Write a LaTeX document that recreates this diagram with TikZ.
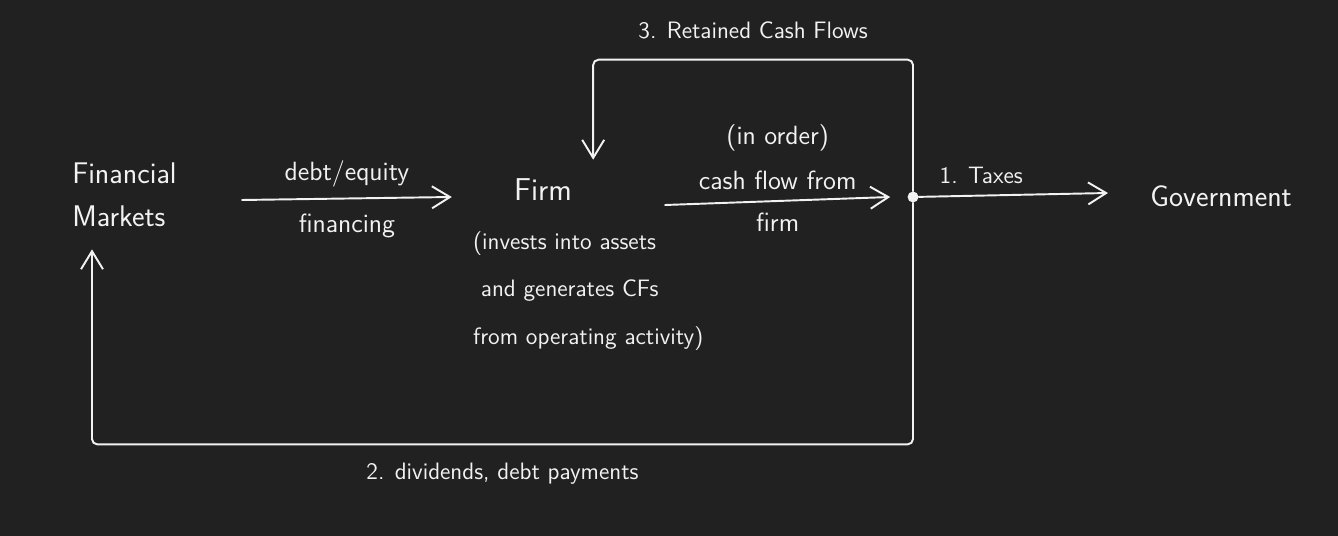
\documentclass[tikz,border=0pt]{standalone}
\usetikzlibrary{arrows.meta,calc}
\definecolor{board}{HTML}{212121}
\definecolor{chalk}{HTML}{F2F2F2}

\begin{document}
\begin{tikzpicture}[x=0.02cm, y=-0.02cm,
        big/.style={text=chalk, inner sep=0pt, font=\sffamily\fontsize{17}{24.5}\selectfont},
        lbl/.style={text=chalk, inner sep=0pt, font=\sffamily\fontsize{15}{25.5}\selectfont},
        small/.style={text=chalk, inner sep=0pt, font=\sffamily\fontsize{13.5}{27}\selectfont},
        flow/.style={draw=chalk, line width=1.1pt, line cap=round, line join=round,
            -{Straight Barb[length=3.6mm,width=4.4mm]}},
        loopback/.style={flow, rounded corners=3pt},
        dot/.style={circle, fill=chalk, inner sep=2.2pt}]
            \useasboundingbox[fill=board] (0,0) rectangle (1338,536);

            % parties
            \node[big, align=left, anchor=west] (fm) at (72,195) {Financial\\Markets};
            \node[big, font=\sffamily\fontsize{18}{24}\selectfont] (firm) at (543,190) {Firm};
            \node[small, align=left, anchor=north west] (desc) at ($(firm.south west)+(-41,30)$)
                {(invests into assets\\ \ and generates CFs\\from operating activity)};
            \node[big, anchor=west] (gov) at (1150,196) {Government};
            \node[dot] (split) at (913,197) {};

            % ends of the arrows
            \coordinate (mkt) at ($(fm.south west)+(20,22)$);
            \coordinate (retin) at ($(firm.north east)+(21,-19)$);

            % financing
            \draw[flow] ($(fm.east)+(65,5)$) -- ($(firm.west)+(-62,7)$)
                node[lbl, midway, above=6pt] {debt/equity}
                node[lbl, midway, below=8pt] {financing};
            % cash flow from firm
            \draw[flow] ($(firm.east)+(93,15)$) -- ($(split.west)+(-17,0)$)
                node[lbl, midway, above=6pt, align=center] {(in order)\\cash flow from}
                node[lbl, midway, below=6pt] {firm};
            % 1. taxes
            \draw[flow] (split) -- ($(gov.west)+(-42,-3)$)
                node[small, pos=0.33, above=6pt] {1. Taxes};
            % 2. back to the markets
            \draw[loopback] (split) |- node[small, pos=0.75, below=10pt] {2. dividends, debt payments}
                ($(mkt)+(0,195)$) -- (mkt);
            % 3. retained
            \draw[loopback] (split) |- node[small, pos=0.75, above=11pt] {3. Retained Cash Flows}
                ($(retin)+(0,-100)$) -- (retin);
        \end{tikzpicture}
\end{document}
